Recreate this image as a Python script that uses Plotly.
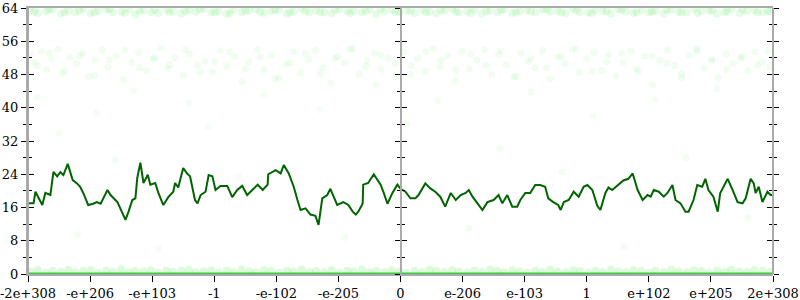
import plotly.graph_objects as go

# ---- data ----
tick_pos = [-6, -5, -4, -3, -2, -1, 0, 1, 2, 3, 4, 5, 6]
tick_labels = ["-2e+308", "-e+206", "-e+103", "-1", "-e-102", "-e-205", "0",
               "e-206", "e-103", "1", "e+102", "e+205", "2e+308"]

line_x = [-6.00, -5.91, -5.88, -5.83, -5.77, -5.72, -5.64, -5.59, -5.53, -5.48,
          -5.43, -5.36, -5.28, -5.21, -5.16, -5.11, -5.03, -4.95, -4.89, -4.83,
          -4.72, -4.67, -4.56, -4.48, -4.43, -4.38, -4.32, -4.27, -4.24, -4.19,
          -4.14, -4.07, -4.03, -3.95, -3.90, -3.82, -3.74, -3.66, -3.63, -3.58,
          -3.50, -3.44, -3.39, -3.31, -3.27, -3.22, -3.14, -3.09, -3.03, -2.98,
          -2.90, -2.79, -2.71, -2.63, -2.55, -2.47, -2.38, -2.30, -2.22, -2.14,
          -2.13, -2.01, -1.93, -1.88, -1.80, -1.72, -1.66, -1.61, -1.53, -1.45,
          -1.37, -1.32, -1.26, -1.18, -1.13, -1.08, -1.02, -0.92, -0.84, -0.77,
          -0.72, -0.68, -0.61, -0.60, -0.52, -0.43, -0.37, -0.32, -0.27, -0.21,
          -0.13, -0.05, 0.00,
          0.08, 0.16, 0.24, 0.29, 0.40, 0.48, 0.56, 0.64, 0.72, 0.81,
          0.89, 0.97, 1.05, 1.10, 1.16, 1.24, 1.32, 1.40, 1.50, 1.58,
          1.64, 1.72, 1.80, 1.88, 1.93, 2.01, 2.09, 2.17, 2.25, 2.33,
          2.38, 2.46, 2.54, 2.58, 2.63, 2.71, 2.79, 2.87, 2.95, 3.01,
          3.09, 3.17, 3.22, 3.30, 3.35, 3.41, 3.46, 3.54, 3.59, 3.67,
          3.74, 3.82, 3.90, 3.98, 4.03, 4.08, 4.16, 4.24, 4.30, 4.38,
          4.43, 4.51, 4.59, 4.64, 4.72, 4.78, 4.86, 4.91, 4.96, 5.04,
          5.11, 5.15, 5.20, 5.27, 5.35, 5.43, 5.51, 5.56, 5.64, 5.69,
          5.72, 5.77, 5.83, 5.91, 5.96, 6.00]
line_y = [17.0, 17.0, 19.8, 18.5, 16.6, 19.5, 19.0, 24.6, 23.5, 24.5,
          23.8, 26.5, 22.6, 21.8, 21.0, 19.5, 16.6, 16.9, 17.3, 16.9,
          20.2, 19.0, 17.3, 14.7, 13.0, 15.0, 17.8, 18.2, 23.1, 26.8,
          21.9, 23.9, 21.5, 21.9, 19.5, 16.6, 18.5, 19.8, 21.9, 20.8,
          25.5, 24.2, 23.5, 17.8, 17.0, 19.0, 19.8, 23.8, 23.5, 20.2,
          21.2, 21.2, 18.5, 20.2, 21.2, 19.0, 20.2, 21.5, 20.2, 21.5,
          24.0, 25.0, 24.2, 26.2, 24.2, 21.0, 17.8, 15.4, 15.8, 14.3,
          14.0, 11.8, 18.2, 19.0, 20.5, 18.5, 16.6, 17.3, 16.6, 15.0,
          14.3, 15.0, 16.9, 21.5, 21.9, 24.0, 22.6, 21.5, 19.5, 16.9,
          19.5, 21.5, 20.5,
          19.8, 18.2, 18.2, 19.0, 21.8, 20.6, 19.8, 18.6, 16.2, 19.5,
          17.8, 19.0, 19.5, 20.2, 18.6, 17.0, 15.4, 17.3, 17.8, 19.0,
          17.0, 19.0, 16.2, 16.2, 17.8, 19.5, 19.5, 21.4, 21.4, 21.0,
          18.2, 17.3, 16.6, 15.4, 17.3, 17.8, 19.8, 18.6, 21.0, 21.4,
          20.2, 16.4, 15.4, 19.5, 20.8, 20.2, 20.8, 21.8, 22.5, 22.9,
          24.2, 20.2, 17.8, 19.0, 18.6, 20.2, 19.8, 18.6, 19.5, 21.4,
          17.8, 17.0, 15.0, 15.0, 17.8, 21.4, 21.0, 22.9, 20.2, 18.6,
          15.0, 19.5, 21.0, 22.9, 20.2, 17.3, 17.0, 18.2, 22.9, 21.8,
          19.5, 21.0, 17.3, 19.8, 19.0, 19.0]

top_x = [-5.96, -5.84, -5.71, -5.60, -5.47, -5.35, -5.24, -5.11, -4.99, -4.87,
         -4.74, -4.63, -4.50, -4.38, -4.27, -4.14, -4.02, -3.90, -3.77, -3.66,
         -3.53, -3.41, -3.30, -3.17, -3.05, -2.93, -2.80, -2.69, -2.56, -2.44,
         -2.33, -2.20, -2.08, -1.96, -1.83, -1.72, -1.59, -1.47, -1.36, -1.23,
         -1.11, -0.99, -0.86, -0.75, -0.62, -0.50, -0.39, -0.26, -0.14, -0.02,
         0.10, 0.23, 0.35, 0.47, 0.58, 0.71, 0.83, 0.94, 1.07, 1.19,
         1.31, 1.44, 1.56, 1.67, 1.80, 1.92, 2.04, 2.17, 2.29, 2.41,
         2.53, 2.66, 2.78, 2.89, 3.02, 3.14, 3.26, 3.39, 3.51, 3.63,
         3.75, 3.88, 4.00, 4.11, 4.24, 4.36, 4.48, 4.61, 4.73, 4.85,
         4.97, 5.10, 5.22, 5.33, 5.46, 5.58, 5.70, 5.83, 5.95]
top_y = [63.5, 62.8, 63.2, 63.7, 62.6, 63.4, 63.0, 63.8, 62.7, 63.3,
         63.6, 62.9, 63.1, 63.7, 62.5, 63.4, 63.0, 62.8, 63.6, 63.2,
         62.7, 63.5, 63.1, 63.8, 62.9, 63.3, 62.6, 63.6, 63.0, 63.4,
         63.7, 62.8, 63.2, 63.5, 62.6, 63.1, 63.8, 62.9, 63.4, 63.0,
         62.7, 63.6, 63.2, 63.3, 62.9, 63.7, 62.5, 63.1, 63.5, 63.0,
         63.4, 62.8, 63.6, 63.1, 62.7, 63.3, 63.8, 62.9, 63.2, 63.5,
         62.6, 63.4, 63.0, 63.7, 62.8, 63.2, 63.5, 62.9, 63.6, 63.1,
         63.3, 62.7, 63.8, 63.0, 62.9, 63.4, 63.2, 62.6, 63.7, 63.1,
         62.8, 63.5, 63.0, 63.3, 62.7, 63.6, 63.1, 62.9, 63.8, 63.2,
         63.4, 62.6, 63.0, 63.7, 62.8, 63.3, 63.5, 62.9, 63.2]
top2_x = [-5.90, -5.66, -5.41, -5.17, -4.93, -4.69, -4.44, -4.20, -3.96, -3.72,
          -3.47, -3.23, -2.99, -2.75, -2.50, -2.26, -2.02, -1.78, -1.53, -1.29,
          -1.05, -0.81, -0.56, -0.32, -0.08, 0.16, 0.41, 0.65, 0.89, 1.13,
          1.38, 1.62, 1.86, 2.10, 2.35, 2.59, 2.83, 3.08, 3.32, 3.56,
          3.80, 4.05, 4.29, 4.53, 4.78, 5.02, 5.26, 5.51, 5.75, 5.92]
top2_y = [63.1, 63.6, 62.9, 63.4, 63.0, 63.7, 62.8, 63.3, 63.5, 62.9,
          63.2, 63.7, 63.0, 62.7, 63.4, 63.1, 63.6, 62.9, 63.3, 63.0,
          63.5, 62.8, 63.2, 63.7, 63.0, 63.4, 62.9, 63.6, 63.1, 62.8,
          63.3, 63.5, 62.9, 63.2, 63.7, 63.0, 63.4, 62.8, 63.3, 63.6,
          62.9, 63.1, 63.5, 63.0, 62.8, 63.4, 63.2, 63.6, 62.9, 63.3]

mid_x = [-5.95, -5.85, -5.78, -5.70, -5.62, -5.52, -5.45, -5.33, -5.22, -5.12,
         -5.02, -4.92, -4.80, -4.71, -4.58, -4.46, -4.33, -4.22, -4.10, -3.98,
         -3.86, -3.75, -3.63, -3.50, -3.40, -3.27, -3.15, -3.03, -2.90, -2.80,
         -2.67, -2.55, -2.44, -2.31, -2.20, -2.08, -1.96, -1.84, -1.72, -1.60,
         -1.48, -1.37, -1.25, -1.13, -1.01, -0.90, -0.78, -0.66, -0.54, -0.42,
         -0.31, -0.19, -0.07, 0.05, 0.17, 0.28, 0.40, 0.52, 0.64, 0.76,
         0.88, 0.99, 1.11, 1.23, 1.35, 1.47, 1.58, 1.70, 1.82, 1.94,
         2.06, 2.17, 2.29, 2.41, 2.53, 2.65, 2.76, 2.88, 3.00, 3.12,
         3.24, 3.35, 3.47, 3.59, 3.71, 3.83, 3.94, 4.06, 4.18, 4.30,
         4.42, 4.53, 4.65, 4.77, 4.89, 5.01, 5.12, 5.24, 5.36, 5.48,
         5.60, 5.71, 5.83, 5.95]
mid_y = [52.8, 50.1, 53.6, 49.2, 51.7, 54.1, 48.3, 52.2, 50.6, 53.1,
         47.5, 51.4, 53.9, 49.8, 52.5, 46.8, 50.9, 53.3, 48.9, 51.8,
         54.4, 49.5, 52.1, 47.9, 53.0, 50.3, 51.2, 48.6, 53.7, 49.9,
         52.4, 46.3, 51.0, 54.0, 49.1, 52.7, 47.2, 50.5, 53.5, 48.4,
         51.6, 53.8, 49.6, 45.9, 52.3, 50.8, 54.2, 48.1, 51.3, 53.2,
         49.4, 52.0, 47.7, 53.4, 50.2, 51.9, 48.8, 54.3, 50.0, 52.6,
         46.5, 53.6, 49.3, 51.5, 54.0, 48.0, 52.9, 50.4, 47.4, 53.1,
         51.1, 49.7, 53.8, 46.9, 52.2, 50.7, 54.1, 48.5, 51.8, 53.3,
         49.0, 52.8, 47.6, 50.9, 53.7, 48.7, 52.4, 45.5, 51.4, 53.9,
         50.1, 48.2, 52.6, 54.2, 49.5, 51.2, 47.1, 53.0, 50.6, 52.1,
         48.9, 53.5, 51.0, 49.8]
mid2_x = [-5.90, -5.66, -5.41, -5.17, -4.93, -4.69, -4.44, -4.20, -3.96, -3.72,
          -3.47, -3.23, -2.99, -2.75, -2.50, -2.26, -2.02, -1.78, -1.53, -1.29,
          -1.05, -0.81, -0.56, -0.32, -0.08, 0.16, 0.41, 0.65, 0.89, 1.13,
          1.38, 1.62, 1.86, 2.10, 2.35, 2.59, 2.83, 3.08, 3.32, 3.56,
          3.80, 4.05, 4.29, 4.53, 4.78, 5.02, 5.26, 5.51, 5.75, 5.92]
mid2_y = [50.9, 53.2, 49.0, 52.6, 47.8, 51.5, 53.9, 49.7, 52.0, 50.4,
          54.0, 48.6, 51.1, 53.4, 49.3, 52.3, 47.0, 50.8, 53.0, 48.2,
          51.9, 54.1, 49.9, 52.7, 50.5, 48.0, 53.5, 51.4, 49.1, 52.9,
          50.2, 53.7, 47.5, 51.8, 49.6, 52.4, 54.2, 48.8, 51.0, 53.1,
          49.4, 52.5, 50.7, 47.3, 53.6, 51.7, 49.2, 52.2, 50.3, 53.8]

sparse_x = [-5.85, -5.5, -5.2, -4.9, -4.6, -4.3, -3.9, -3.4, -3.1, -2.6,
            -2.2, -1.7, -1.3, -0.9, -0.4, 0.1, 0.6, 1.1, 1.6, 2.1,
            2.6, 3.1, 3.6, 4.1, 4.6, 5.1, 5.6]
sparse_y = [42.5, 33.8, 9.5, 38.9, 27.5, 44.1, 6.2, 41.0, 35.5, 23.5,
            43.2, 16.0, 39.5, 8.7, 45.5, 36.3, 41.8, 11.0, 30.2, 43.8,
            24.5, 38.0, 6.5, 42.0, 28.0, 44.6, 13.5]

bottom_x = top_x
bottom_y = [0.6, 0.9, 0.3, 0.8, 0.5, 1.0, 0.4, 0.7, 0.9, 0.3,
            0.8, 0.5, 1.1, 0.4, 0.7, 0.6, 0.9, 0.3, 0.8, 0.5,
            0.7, 1.0, 0.4, 0.6, 0.9, 0.3, 0.8, 0.5, 1.0, 0.6,
            0.4, 0.9, 0.7, 0.3, 0.8, 0.6, 1.0, 0.5, 0.7, 0.4,
            0.9, 0.3, 0.8, 0.6, 1.1, 0.4, 0.7, 0.5, 0.9, 0.6,
            0.3, 0.8, 0.5, 1.0, 0.7, 0.4, 0.9, 0.6, 0.3, 0.8,
            0.5, 1.0, 0.7, 0.4, 0.9, 0.6, 0.3, 0.8, 0.5, 1.0,
            0.6, 0.4, 0.9, 0.7, 0.3, 0.8, 0.5, 1.1, 0.6, 0.4,
            0.9, 0.7, 0.3, 0.8, 0.5, 1.0, 0.6, 0.4, 0.9, 0.7,
            0.3, 0.8, 0.5, 1.0, 0.6, 0.4, 0.9, 0.7, 0.5]

zero_x = [-6, 6]
zero_y = [0, 0]

# ---- figure ----
fig = go.Figure()

def cloud(xs, ys, alpha, size):
    return go.Scatter(x=xs, y=ys, mode="markers", hoverinfo="skip",
                      marker=dict(size=size, color=f"rgba(40,225,40,{alpha})",
                                  line=dict(width=0)))

fig.add_trace(cloud(top_x, top_y, 0.11, 8))
fig.add_trace(cloud(top2_x, top2_y, 0.11, 8))
fig.add_trace(cloud(mid_x, mid_y, 0.07, 7))
fig.add_trace(cloud(mid2_x, mid2_y, 0.07, 7))
fig.add_trace(cloud(sparse_x, sparse_y, 0.05, 7))
fig.add_trace(cloud(bottom_x, bottom_y, 0.16, 8))

fig.add_trace(go.Scatter(x=zero_x, y=zero_y, mode="lines",
                         line=dict(color="rgb(60,200,60)", width=3), hoverinfo="skip"))
fig.add_trace(go.Scatter(x=line_x, y=line_y, mode="lines",
                         line=dict(color="#006400", width=2)))

font = dict(family="DejaVu Serif", size=13, color="black")
axis_line = dict(showline=True, linecolor="#aaaaaa", linewidth=2)

fig.update_layout(
    width=800, height=300,
    font=font,
    margin=dict(l=28, r=27, t=8, b=26, autoexpand=False),
    plot_bgcolor="white", paper_bgcolor="white",
    showlegend=False,
    xaxis=dict(range=[-6, 6], tickmode="array", tickvals=tick_pos, ticktext=tick_labels,
               ticks="outside", ticklen=6, tickwidth=1, tickcolor="black",
               showgrid=False, zeroline=False, mirror=True, tickfont=font,
               ticklabeloverflow="allow", automargin=False, **axis_line),
)

def yax(side, ticks, labels):
    return dict(range=[0, 64], tickmode="linear", tick0=0, dtick=8,
                ticks=ticks, ticklen=5, tickwidth=1, tickcolor="black",
                minor=dict(ticks=ticks, ticklen=3, dtick=4, tickcolor="black", showgrid=False),
                showgrid=False, zeroline=False, showticklabels=labels, tickfont=font,
                side=side, automargin=False, **axis_line)

fig.update_layout(yaxis=yax("left", "outside", True))
specs = [("left", 0.0, "inside"), ("left", 0.5, "outside"), ("left", 0.5, "inside"),
         ("right", 1.0, "outside"), ("right", 1.0, "inside")]
for i, (side, pos, ticks) in enumerate(specs, start=2):
    d = yax(side, ticks, False)
    d.update(overlaying="y", matches="y", anchor="free", position=pos)
    fig.update_layout(**{f"yaxis{i}": d})
    fig.add_trace(go.Scatter(x=zero_x, y=zero_y, yaxis=f"y{i}", mode="lines",
                             line=dict(color="rgba(0,0,0,0)", width=0), hoverinfo="skip"))

fig.write_html("out.html")
